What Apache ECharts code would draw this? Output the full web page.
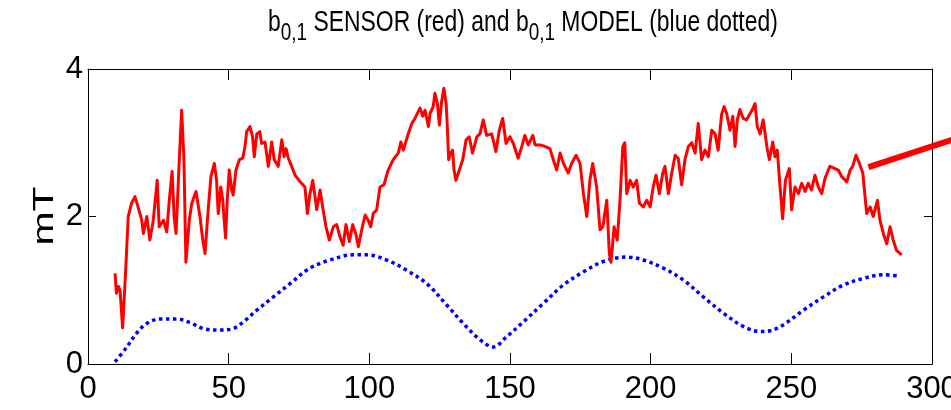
<!DOCTYPE html>
<html>
<head>
<meta charset="utf-8">
<script src="https://cdn.jsdelivr.net/npm/echarts@6/dist/echarts.min.js"></script>
<style>
  html, body { margin: 0; padding: 0; background: #ffffff; }
  #chart { width: 951px; height: 410px; }
</style>
</head>
<body>
<div id="chart"></div>
<script>
// b(0,1) sensor trace (mT) against sample position
const sensorX = [9.6,10.1,10.8,11.4,12.3,13.3,14.3,15.5,16.7,17.8,19.1,19.7,20.9,22.0,23.2,24.6,25.3,26.8,28.0,28.9,29.9,30.6,31.3,32.5,33.3,34.1,34.8,36.0,36.9,38.4,39.8,40.8,41.6,42.8,43.7,44.9,45.7,46.3,47.2,47.9,48.3,48.9,49.5,50.2,51.1,51.6,52.6,53.8,55.0,55.8,56.4,57.6,58.5,59.1,60.0,61.1,61.7,62.9,64.1,65.3,66.2,67.6,68.9,69.7,70.4,71.2,72.4,73.6,75.4,77.1,78.0,78.9,79.9,80.7,81.3,82.5,83.4,84.6,85.8,87.2,88.4,89.6,90.7,91.7,92.9,94.1,95.3,96.1,97.3,98.5,99.6,100.5,101.4,102.6,103.8,105.2,106.7,108.5,110.3,111.2,112.1,113.9,115.1,116.2,118.0,119.0,119.8,121.0,121.6,122.7,123.3,124.2,124.9,125.7,126.5,127.3,127.7,128.2,128.9,129.6,130.1,130.8,132.0,133.2,134.4,135.5,136.7,138.2,139.3,140.5,141.7,143.5,145.0,146.2,147.4,148.6,150.0,151.2,152.9,154.2,155.3,156.5,158.1,158.9,160.7,162.4,164.2,165.4,166.6,167.8,169.0,170.7,171.9,173.5,174.9,176.1,177.3,178.4,179.4,180.8,182.0,183.0,184.4,185.3,185.9,187.0,188.1,189.1,190.1,190.8,191.5,192.7,193.8,195.0,196.0,197.4,198.6,199.8,200.9,201.9,203.1,204.3,205.1,206.3,207.5,208.7,209.8,211.0,212.2,213.4,214.6,215.8,216.9,218.1,219.3,220.5,221.7,222.9,224.0,225.2,226.1,227.0,228.2,229.2,230.0,230.8,231.7,232.9,234.1,235.1,235.9,237.1,237.9,238.9,240.0,241.3,242.2,243.4,244.2,245.0,246.0,246.9,247.9,249.3,250.1,251.3,252.5,253.7,254.9,256.0,257.2,258.4,259.6,260.8,262.0,263.7,265.5,266.7,267.9,269.7,270.9,271.8,273.0,274.2,275.4,276.2,276.8,278.0,279.1,280.6,281.5,282.7,283.9,285.1,286.2,287.4,288.6,289.2];
const sensorY = [1.23,0.96,1.05,1.00,0.49,1.20,2.00,2.18,2.27,2.13,1.95,1.77,2.00,1.68,1.95,2.49,1.86,1.95,1.79,2.22,2.61,2.00,1.77,2.81,3.44,2.77,1.38,1.95,2.18,2.34,2.00,1.68,1.50,2.13,2.54,2.72,2.49,2.04,2.40,2.22,2.00,1.71,2.22,2.63,2.36,2.29,2.63,2.77,2.79,2.95,3.15,3.22,3.08,2.81,3.12,3.15,2.99,3.01,2.68,3.01,2.77,2.68,3.04,2.81,2.92,2.79,2.68,2.56,2.47,2.40,2.04,2.31,2.49,2.27,2.09,2.36,2.13,1.86,1.68,1.86,1.89,1.72,1.61,1.89,1.66,1.89,1.75,1.59,1.82,2.02,1.95,1.86,2.04,2.09,2.40,2.43,2.63,2.77,2.86,3.01,2.90,3.13,3.26,3.33,3.47,3.36,3.44,3.22,3.40,3.49,3.67,3.53,3.24,3.56,3.74,3.53,3.24,2.77,2.86,2.90,2.63,2.49,2.63,2.77,3.04,3.08,2.86,3.08,3.12,3.31,3.10,3.12,2.88,3.17,3.33,2.99,3.08,2.99,2.79,2.95,3.10,2.97,3.10,2.97,2.97,2.95,2.92,2.77,2.63,2.86,2.72,2.59,2.72,2.83,2.72,2.31,2.00,2.49,2.72,2.40,1.82,1.86,2.22,1.50,1.38,1.86,1.68,2.22,2.95,3.00,2.31,2.49,2.40,2.49,2.18,2.13,2.22,2.13,2.40,2.56,2.31,2.59,2.68,2.31,2.59,2.83,2.79,2.43,2.77,2.95,3.00,2.86,3.26,2.77,2.90,2.81,3.17,3.12,2.90,3.38,3.49,3.40,3.17,3.36,2.95,3.31,3.45,3.33,3.31,3.38,3.43,3.53,3.22,3.12,3.31,2.95,2.77,3.01,2.81,2.90,2.40,1.97,2.49,2.65,2.09,2.40,2.31,2.45,2.34,2.45,2.36,2.56,2.40,2.31,2.52,2.68,2.65,2.63,2.54,2.47,2.63,2.68,2.83,2.72,2.59,2.27,2.04,2.13,2.00,2.22,1.95,1.77,1.63,1.86,1.68,1.54,1.50,1.48];

// b(0,1) model curve (mT)
const modelX = [9.6,13.8,17.3,20.9,25.6,31.5,36.3,41.0,46.9,51.6,55.2,60.0,65.9,71.8,78.9,86.0,94.3,99.1,106.2,113.3,120.4,127.5,133.4,138.7,144.1,148.8,154.7,161.8,168.9,176.1,183.2,191.5,197.4,204.5,211.6,218.7,225.8,232.9,238.9,242.4,247.1,254.3,261.4,268.5,275.6,282.7,288.6];
const modelY = [0.03,0.23,0.42,0.55,0.61,0.61,0.56,0.48,0.46,0.48,0.57,0.73,0.91,1.09,1.30,1.41,1.48,1.48,1.41,1.27,1.09,0.80,0.55,0.35,0.23,0.37,0.57,0.82,1.07,1.25,1.39,1.45,1.41,1.30,1.14,0.91,0.69,0.51,0.44,0.45,0.53,0.73,0.91,1.07,1.16,1.21,1.19];

// Pointer stroke that runs off the right side of the plot
const pointerX = [277.4, 312];
const pointerY = [2.67, 3.10];

const xTicks = [0, 50, 100, 150, 200, 250, 300];
const yTicks = [0, 2, 4];

const FONT = "'Liberation Sans', Arial, Helvetica, sans-serif";
const SQUEEZE = 0.79;   // horizontal compression of the lettering
const zip = (xs, ys) => xs.map((x, i) => [x, ys[i]]);
const xMin = xTicks[0], xMax = xTicks[xTicks.length - 1];
const yMin = yTicks[0], yMax = yTicks[yTicks.length - 1];

function xAxisDef(position, withLabels) {
  return {
    type: 'value', min: xMin, max: xMax, interval: 50,
    position: position,
    axisLine: { show: true, onZero: false, lineStyle: { color: '#000', width: 1 } },
    axisTick: { show: true, inside: true, length: 11, lineStyle: { color: '#000', width: 1 } },
    axisLabel: { show: withLabels, fontFamily: FONT, fontSize: 31, color: '#000', margin: 10, hideOverlap: false },
    splitLine: { show: false }
  };
}
function yAxisDef(position, withLabels) {
  return {
    type: 'value', min: yMin, max: yMax, interval: 2,
    position: position,
    axisLine: { show: true, onZero: false, lineStyle: { color: '#000', width: 1 } },
    axisTick: { show: true, inside: true, length: 8, lineStyle: { color: '#000' } },
    axisLabel: { show: withLabels, fontFamily: FONT, fontSize: 31, color: '#000', margin: 5 },
    splitLine: { show: false }
  };
}

const chart = echarts.init(document.getElementById('chart'), null, { renderer: 'canvas' });

chart.setOption({
  animation: false,
  backgroundColor: '#ffffff',
  grid: { left: 88, right: 19, top: 69, bottom: 46, containLabel: false, outerBoundsMode: 'none' },
  xAxis: [xAxisDef('bottom', true), xAxisDef('top', false)],
  yAxis: [yAxisDef('left', true), yAxisDef('right', false)],
  series: [
    {
      name: 'model',
      type: 'line',
      xAxisIndex: 1,
      yAxisIndex: 1,
      data: zip(modelX, modelY),
      smooth: 0.35,
      symbol: 'none',
      lineStyle: { color: '#0000ff', width: 3.5, type: [3.5, 3.5] },
      z: 2
    },
    {
      name: 'sensor',
      type: 'line',
      data: zip(sensorX, sensorY),
      symbol: 'none',
      lineStyle: { color: '#ff0000', width: 3, join: 'round' },
      z: 3
    }
  ]
});

// Title, 'mT' label and pointer stroke; the pointer is placed through the grid's coordinate system
const px = (x, y) => chart.convertToPixel({ gridIndex: 0 }, [x, y]);
const p0 = px(pointerX[0], pointerY[0]);
const p1 = px(pointerX[1], pointerY[1]);
chart.setOption({
  graphic: [
    {
      type: 'text',
      x: 268, y: 8,
      scaleX: SQUEEZE,
      style: {
        text: '{a|b}{s|0,1}{a| SENSOR (red) and b}{s|0,1}{a| MODEL (blue dotted)}',
        align: 'left',
        verticalAlign: 'top',
        rich: {
          a: { fontFamily: FONT, fontSize: 29, fill: '#000', lineHeight: 30, verticalAlign: 'top' },
          s: { fontFamily: FONT, fontSize: 24, fill: '#000', lineHeight: 30, verticalAlign: 'top', padding: [13, 0, 0, 0] }
        }
      }
    },
    {
      type: 'text',
      x: 45, y: 216,
      rotation: Math.PI / 2,
      scaleY: 0.7,
      style: { text: 'mT', fontFamily: FONT, fontSize: 41, fill: '#000', align: 'center', verticalAlign: 'middle' }
    },
    {
      type: 'line', z: 10,
      shape: { x1: p0[0], y1: p0[1], x2: p1[0], y2: p1[1] },
      style: { stroke: '#ff0000', lineWidth: 6, lineCap: 'butt' }
    }
  ]
});
</script>
</body>
</html>
